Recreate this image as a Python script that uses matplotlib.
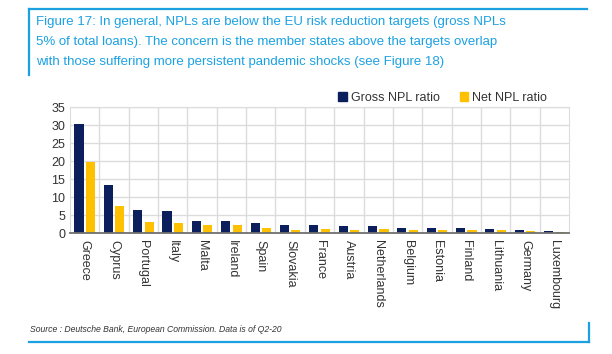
#!/bin/python3

import numpy as np
import matplotlib.pyplot as plt
from matplotlib.lines import Line2D
from matplotlib.patches import Patch

countries = ["Greece", "Cyprus", "Portugal", "Italy", "Malta", "Ireland", "Spain",
             "Slovakia", "France", "Austria", "Netherlands", "Belgium", "Estonia",
             "Finland", "Lithuania", "Germany", "Luxembourg"]
gross_npl = [30.3, 13.3, 6.5, 6.1, 3.4, 3.3, 2.9, 2.4, 2.3, 2.1, 1.9, 1.6, 1.5, 1.4, 1.2, 1.0, 0.7]
net_npl = [19.7, 7.5, 3.1, 2.9, 2.4, 2.4, 1.6, 0.8, 1.1, 0.9, 1.3, 0.8, 0.9, 0.9, 0.8, 0.7, 0.4]
yticks = [0, 5, 10, 15, 20, 25, 30, 35]

title_lines = ["Figure 17: In general, NPLs are below the EU risk reduction targets (gross NPLs",
               "5% of total loans). The concern is the member states above the targets overlap",
               "with those suffering more persistent pandemic shocks (see Figure 18)"]
source = "Source : Deutsche Bank, European Commission. Data is of Q2-20"

NAVY = "#0b1f5c"
GOLD = "#ffc000"
BLUE = "#1ba1e2"

plt.rcParams['font.family'] = ['Liberation Sans', 'DejaVu Sans']

fig = plt.figure(figsize=(6.12, 3.54), dpi=100)
ax = fig.add_axes([0.1144, 0.341, 0.8154, 0.356])

x = np.arange(len(countries))
w = 0.31
ax.bar(x - 0.195, gross_npl, w, color=NAVY, zorder=3)
ax.bar(x + 0.195, net_npl, w, color=GOLD, zorder=3)

ax.set_xlim(-0.5, len(countries) - 0.5)
ax.set_ylim(0, 35)
ax.set_yticks(yticks)
ax.set_xticks(x)
ax.set_xticklabels(countries, rotation=-90, fontsize=9, color="#333333")
ax.set_xticks(np.arange(len(countries) - 1) + 0.5, minor=True)
ax.tick_params(axis="both", which="both", length=0, labelsize=9, colors="#333333")
ax.tick_params(axis="x", pad=5)
ax.grid(True, which="major", axis="y", color="#dcdcdc", lw=1, zorder=0)
ax.grid(True, which="minor", axis="x", color="#dcdcdc", lw=1, zorder=0)
for s in ["left", "right", "top"]:
    ax.spines[s].set_color("#dcdcdc")
ax.spines["bottom"].set_color("#707070")
ax.spines["bottom"].set_linewidth(1.3)
ax.spines["bottom"].set_zorder(4)

handles = [Patch(color=NAVY, label="Gross NPL ratio"), Patch(color=GOLD, label="Net NPL ratio")]
fig.legend(handles=handles, loc="center right", bbox_to_anchor=(0.912, 0.724), ncol=2,
           frameon=False, fontsize=9, handlelength=0.7, handleheight=0.7,
           handletextpad=0.3, columnspacing=1.6, labelcolor="#333333")

# title, one line at a time so the spacing matches
for i, line in enumerate(title_lines):
    fig.text(0.059, 1 - (22 + 20 * i) / 354, line, fontsize=9.5, color=BLUE,
             va="center", ha="left")
fig.text(0.049, 0.068, source, fontsize=6.2, style="italic", color="#333333", va="center")

# blue frame
fig.add_artist(Line2D([0.0474, 0.959], [0.9737, 0.9737], color=BLUE, lw=1.6))
fig.add_artist(Line2D([0.0474, 0.0474], [0.9737, 0.788], color=BLUE, lw=1.6))
fig.add_artist(Line2D([0.0474, 0.9624], [0.0339, 0.0339], color=BLUE, lw=1.6))
fig.add_artist(Line2D([0.9624, 0.9624], [0.0339, 0.0876], color=BLUE, lw=1.6))

fig.savefig("out.png", dpi=100)
